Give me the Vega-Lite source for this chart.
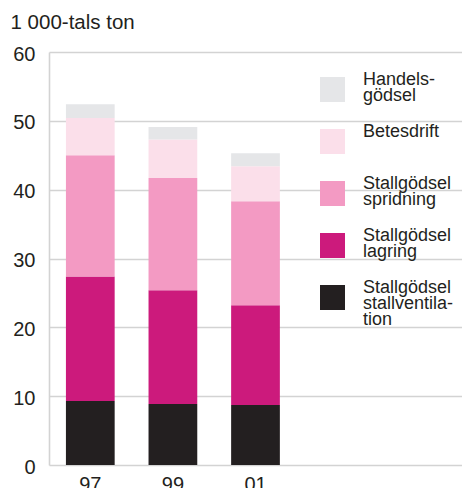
{
  "$schema": "https://vega.github.io/schema/vega-lite/v6.json",
  "autosize": "none",
  "width": 413,
  "height": 413,
  "padding": {"left": 49, "top": 52, "right": 0, "bottom": 23},
  "background": "white",
  "config": {
    "font": "Liberation Sans",
    "view": {"stroke": null}
  },
  "data": {
    "values": [
      {"year": "97", "kategori": "Stallgödsel stallventilation", "ord": 1, "value": 9.3},
      {"year": "97", "kategori": "Stallgödsel lagring", "ord": 2, "value": 18.1},
      {"year": "97", "kategori": "Stallgödsel spridning", "ord": 3, "value": 17.6},
      {"year": "97", "kategori": "Betesdrift", "ord": 4, "value": 5.4},
      {"year": "97", "kategori": "Handelsgödsel", "ord": 5, "value": 2.0},
      {"year": "99", "kategori": "Stallgödsel stallventilation", "ord": 1, "value": 8.85},
      {"year": "99", "kategori": "Stallgödsel lagring", "ord": 2, "value": 16.55},
      {"year": "99", "kategori": "Stallgödsel spridning", "ord": 3, "value": 16.3},
      {"year": "99", "kategori": "Betesdrift", "ord": 4, "value": 5.6},
      {"year": "99", "kategori": "Handelsgödsel", "ord": 5, "value": 1.8},
      {"year": "01", "kategori": "Stallgödsel stallventilation", "ord": 1, "value": 8.7},
      {"year": "01", "kategori": "Stallgödsel lagring", "ord": 2, "value": 14.5},
      {"year": "01", "kategori": "Stallgödsel spridning", "ord": 3, "value": 15.1},
      {"year": "01", "kategori": "Betesdrift", "ord": 4, "value": 5.1},
      {"year": "01", "kategori": "Handelsgödsel", "ord": 5, "value": 1.9}
    ]
  },
  "mark": {"type": "bar"},
  "encoding": {
    "x": {
      "field": "year",
      "type": "nominal",
      "scale": {"domain": ["97", "99", "01", "_a", "_b"], "paddingInner": 0.41, "paddingOuter": 0.205},
      "axis": {
        "title": null,
        "labelAngle": 0,
        "labelExpr": "indexof(['97','99','01'], datum.label) >= 0 ? datum.label : ''",
        "labelFontSize": 20,
        "labelColor": "#231f20",
        "labelPadding": 9,
        "ticks": false,
        "domain": false
      }
    },
    "y": {
      "field": "value",
      "type": "quantitative",
      "aggregate": "sum",
      "stack": "zero",
      "scale": {"domain": [0, 60], "nice": false},
      "axis": {
        "title": "1 000-tals ton",
        "titleAngle": 0,
        "titleX": -39,
        "titleY": -24,
        "titleAlign": "left",
        "titleBaseline": "alphabetic",
        "titleFontSize": 20.5,
        "titleFontWeight": "normal",
        "titleColor": "#231f20",
        "values": [0, 10, 20, 30, 40, 50, 60],
        "labelFontSize": 20,
        "labelColor": "#231f20",
        "labelPadding": 14,
        "labelOffset": 2,
        "ticks": false,
        "grid": true,
        "gridColor": "#d3d3d3",
        "gridWidth": 1.6,
        "domain": true,
        "domainColor": "#d3d3d3",
        "domainWidth": 1.6
      }
    },
    "order": {"field": "ord", "type": "quantitative"},
    "color": {
      "field": "kategori",
      "type": "nominal",
      "scale": {
        "domain": ["Handelsgödsel", "Betesdrift", "Stallgödsel spridning", "Stallgödsel lagring", "Stallgödsel stallventilation"],
        "range": ["#e5e6e8", "#fbdfea", "#f39ac3", "#cc1a7c", "#231f20"]
      },
      "legend": {
        "title": null,
        "orient": "none",
        "legendX": 271,
        "legendY": 25,
        "symbolType": "square",
        "symbolSize": 625,
        "symbolStrokeWidth": 0,
        "symbolOpacity": 1,
        "labelFontSize": 18,
        "labelColor": "#231f20",
        "labelOffset": 18,
        "labelBaseline": "top",
        "labelLimit": 200,
        "rowPadding": 0,
        "gridAlign": "all",
        "encode": {"labels": {"update": {"dy": {"value": -19}, "lineHeight": {"value": 16.4}}}},
        "labelExpr": "datum.label == 'Handelsgödsel' ? ['Handels-', 'gödsel', ' '] : datum.label == 'Betesdrift' ? ['Betesdrift', ' ', ' '] : datum.label == 'Stallgödsel spridning' ? ['Stallgödsel', 'spridning', ' '] : datum.label == 'Stallgödsel lagring' ? ['Stallgödsel', 'lagring', ' '] : ['Stallgödsel', 'stallventila-', 'tion']"
      }
    }
  }
}
